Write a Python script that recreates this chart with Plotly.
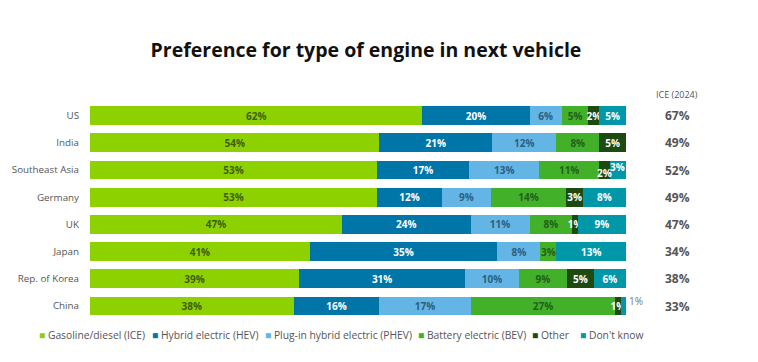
import plotly.graph_objects as go

countries = ["US", "India", "Southeast Asia", "Germany", "UK", "Japan", "Rep. of Korea", "China"]
series_names = ["Gasoline/diesel (ICE)", "Hybrid electric (HEV)", "Plug-in hybrid electric (PHEV)",
                "Battery electric (BEV)", "Other", "Don't know"]
ice = [62, 54, 53, 53, 47, 41, 39, 38]
hev = [20, 21, 17, 12, 24, 35, 31, 16]
phev = [6, 12, 13, 9, 11, 8, 10, 17]
bev = [5, 8, 11, 14, 8, 3, 9, 27]
other = [2, 5, 2, 3, 1, 0, 5, 1]
dont_know = [5, 0, 3, 8, 9, 13, 6, 1]
ice_2024 = [67, 49, 52, 49, 47, 34, 38, 33]

colors = ["#8ED100", "#0076A8", "#62B5E5", "#43B02A", "#1E4A12", "#0097A9"]
text_colors = ["#3F5E0A", "#FFFFFF", "#2C5F80", "#21601A", "#FFFFFF", "#FFFFFF"]
series = [ice, hev, phev, bev, other, dont_know]

# labels that are nudged vertically to avoid overlap: (country, series index, yshift px)
nudged = [("Southeast Asia", 4, -3), ("Southeast Asia", 5, 3)]
nudged_keys = {(c, s) for c, s, _ in nudged}

FONT = "Open Sans"
OFF = 8  # page body margin
W, H = 758 - OFF, 362 - OFF
PL, PR, PT, PB = 90 - OFF, 626 - OFF, 102 - OFF, 320 - OFF

fig = go.Figure()

for si, (name, vals, col, tcol) in enumerate(zip(series_names, series, colors, text_colors)):
    texts = []
    for c, v in zip(countries, vals):
        if v == 0 or (name == "Don't know" and c == "China") or (c, si) in nudged_keys:
            texts.append("")
        else:
            texts.append(f"{v}%")
    fig.add_trace(go.Bar(
        y=countries, x=vals, name=name, orientation="h",
        marker=dict(color=col, line=dict(width=0)),
        text=texts, textposition="inside", insidetextanchor="middle",
        textangle=0, constraintext="none",
        textfont=dict(family=FONT, size=10, color=tcol, weight="bold"),
        showlegend=False, hoverinfo="x+y+name",
    ))

annotations = []
for c, si, ys in nudged:
    ri = countries.index(c)
    total = sum(s[ri] for s in series)
    start = sum(series[k][ri] for k in range(si))
    mid = (start + series[si][ri] / 2) / total * 100
    annotations.append(dict(x=mid, y=c, xref="x", yref="y", text=f"{series[si][ri]}%", showarrow=False,
                            xanchor="center", yanchor="middle", yshift=ys,
                            font=dict(family=FONT, size=10, color=text_colors[si], weight="bold")))
ci = countries.index("China")
annotations.append(dict(x=100, y=countries[ci], xref="x", yref="y", text=f"{dont_know[ci]}%",
                        showarrow=False, xanchor="left", yanchor="middle", xshift=1, yshift=5,
                        font=dict(family=FONT, size=10, color="#777777")))
col_x = (677 - OFF - PL) / (PR - PL)
annotations.append(dict(x=col_x, y=1.0, xref="paper", yref="paper", text="ICE (2024)", showarrow=False,
                        xanchor="center", yanchor="bottom", yshift=-1,
                        font=dict(family=FONT, size=9, color="#555555")))
for c, v in zip(countries, ice_2024):
    annotations.append(dict(x=col_x, y=c, xref="paper", yref="y", text=f"{v}%", showarrow=False,
                            xanchor="center", yanchor="middle",
                            font=dict(family=FONT, size=12, color="#555555", weight="bold")))
legend_px = [37, 150, 263, 416, 530, 578]
for px, name, col in zip(legend_px, series_names, colors):
    annotations.append(dict(x=(px - OFF - PL) / (PR - PL), y=(PB - (335 - OFF)) / (PB - PT),
                            xref="paper", yref="paper",
                            text=f"<span style='color:{col}'>■</span> {name}",
                            showarrow=False, xanchor="left", yanchor="middle",
                            font=dict(family=FONT, size=10.3, color="#555555")))

fig.update_layout(
    barmode="stack", barnorm="percent",
    width=W, height=H,
    margin=dict(l=PL, r=W - PR, t=PT, b=H - PB, autoexpand=False),
    paper_bgcolor="white", plot_bgcolor="white",
    bargap=0.31,
    title=dict(text="<b>Preference for type of engine in next vehicle</b>", x=(366 - OFF) / W, xanchor="center",
               xref="container", y=1 - (50 - OFF) / H, yanchor="middle", yref="container",
               font=dict(family=FONT, size=19.5, color="#111111")),
    xaxis=dict(range=[0, 100], visible=False, fixedrange=True, automargin=False),
    yaxis=dict(autorange="reversed", categoryorder="array", categoryarray=countries,
               showgrid=False, showline=False, ticks="", ticklabelstandoff=10, automargin=False,
               tickfont=dict(family=FONT, size=9.8, color="#555555")),
    annotations=annotations,
    uniformtext=dict(minsize=10, mode="show"),
)

fig.write_html("out.html")
